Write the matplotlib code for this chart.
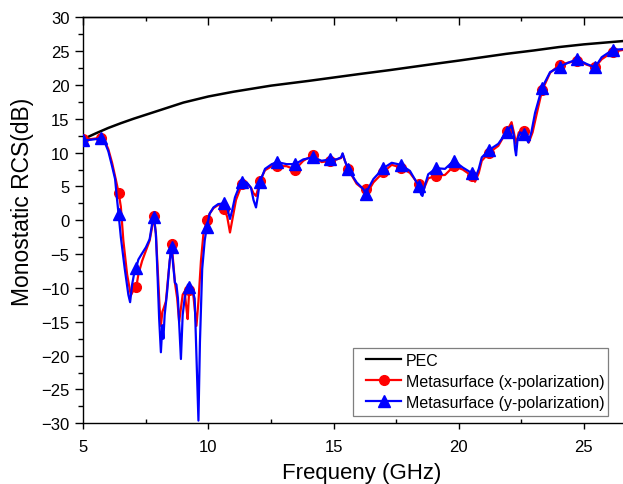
import matplotlib
matplotlib.use("Agg")
import matplotlib.pyplot as plt
from matplotlib.ticker import MultipleLocator
from matplotlib.lines import Line2D
from matplotlib.patches import Rectangle

plt.rcParams['font.family'] = ['Liberation Sans', 'DejaVu Sans']

# ---------------- data ----------------
pec_freq = [5.0, 5.5, 6.0, 6.5, 7.0, 7.5, 8.0, 9.0, 10.0, 11.0, 12.5, 14.0, 15.0, 16.0,
            17.25, 19.0, 20.0, 21.9, 23.0, 24.0, 25.0, 26.6, 27.3]
pec_rcs = [12.0, 12.85, 13.65, 14.35, 15.0, 15.6, 16.2, 17.4, 18.3, 19.0, 19.9, 20.6, 21.1, 21.6,
           22.2, 23.1, 23.6, 24.6, 25.1, 25.6, 26.0, 26.5, 26.7]

ypol_freq = [5.0, 5.3, 5.705, 5.85, 6.0, 6.15, 6.27, 6.35, 6.41, 6.5, 6.65, 6.8, 6.87,
             6.95, 7.05, 7.115, 7.2, 7.33, 7.5, 7.65, 7.75, 7.82, 7.9, 7.97, 8.03, 8.1,
             8.16, 8.2, 8.25, 8.35, 8.45, 8.525, 8.6, 8.66, 8.72, 8.78, 8.84, 8.9, 8.97,
             9.05, 9.12, 9.18, 9.23, 9.3, 9.38, 9.45, 9.52, 9.6, 9.66, 9.75, 9.85, 9.935,
             10.05, 10.2, 10.39, 10.64, 10.75, 10.86, 10.95, 11.06, 11.2, 11.345, 11.53,
             11.7, 11.8, 11.9, 11.97, 12.05, 12.26, 12.53, 12.755, 13.12, 13.46, 13.79,
             14.165, 14.52, 14.87, 15.12, 15.3, 15.36, 15.45, 15.575, 15.92, 16.19, 16.28,
             16.4, 16.59, 16.985, 17.32, 17.69, 18.05, 18.395, 18.5, 18.55, 18.65, 18.78,
             19.1, 19.45, 19.805, 20.16, 20.51, 20.65, 20.8, 20.92, 21.215, 21.58, 21.92,
             22.11, 22.2, 22.25, 22.29, 22.35, 22.45, 22.625, 22.78, 22.9, 23.05, 23.33,
             23.65, 24.035, 24.38, 24.74, 25.11, 25.445, 25.71, 26.15, 26.6, 27.3]
ypol_rcs = [11.8, 11.9, 12.1, 11.6, 10.2, 8.0, 6.1, 3.0, 0.9, -2.5, -7.0, -11.0, -12.1,
            -9.5, -7.5, -7.0, -5.8, -5.0, -4.0, -2.8, -0.5, 0.5, -2.0, -8.5, -14.5, -19.5,
            -15.5, -17.5, -14.0, -10.5, -6.0, -4.0, -7.0, -9.2, -9.5, -11.5, -16.0, -20.5, -14.0,
            -11.5, -10.3, -9.5, -9.9, -10.2, -10.5, -11.6, -20.0, -29.6, -18.0, -7.2, -3.0, -1.0,
            1.0, 1.9, 2.4, 2.5, 1.8, 0.2, 1.5, 3.4, 4.7, 5.6, 5.6,
            4.8, 3.0, 1.9, 3.5, 5.6, 7.6, 8.3, 8.6, 8.3, 8.3, 9.0,
            9.3, 8.8, 9.0, 9.0, 9.3, 9.9, 8.8, 7.6, 5.6, 4.6, 3.9,
            4.8, 6.1, 7.7, 8.5, 8.2, 7.3, 5.1, 3.8, 3.6, 5.2, 6.8,
            7.7, 7.6, 8.8, 7.8, 7.0, 6.1, 7.6, 9.3, 10.4, 11.3, 13.1,
            14.0, 12.5, 10.5, 9.6, 12.0, 13.0, 12.7, 11.5, 13.0, 15.9, 19.6,
            21.9, 22.7, 23.3, 23.8, 23.1, 22.6, 24.1, 25.2, 25.3, 25.4]

xpol_freq = [5.0, 5.3, 5.705, 5.85, 6.0, 6.15, 6.3, 6.41, 6.5, 6.6, 6.75, 6.9, 6.98,
             7.05, 7.115, 7.2, 7.35, 7.5, 7.65, 7.75, 7.82, 7.9, 7.97, 8.05, 8.1, 8.16,
             8.22, 8.3, 8.4, 8.525, 8.6, 8.66, 8.75, 8.83, 8.9, 8.97, 9.05, 9.12, 9.17,
             9.23, 9.3, 9.38, 9.45, 9.52, 9.6, 9.7, 9.8, 9.935, 10.05, 10.2, 10.4, 10.64,
             10.75, 10.86, 10.95, 11.1, 11.345, 11.53, 11.7, 11.8, 11.9, 11.97, 12.05,
             12.26, 12.53, 12.755, 13.12, 13.46, 13.79, 14.165, 14.52, 14.87, 15.12, 15.3,
             15.36, 15.45, 15.575, 15.92, 16.19, 16.28, 16.4, 16.59, 16.985, 17.32, 17.69,
             18.05, 18.395, 18.5, 18.6, 18.78, 19.1, 19.45, 19.805, 20.16, 20.51, 20.65,
             20.8, 20.92, 21.215, 21.58, 21.92, 22.11, 22.2, 22.29, 22.4, 22.625, 22.8,
             22.95, 23.1, 23.33, 23.65, 24.035, 24.38, 24.74, 25.11, 25.445, 25.71, 26.15,
             26.6, 27.3]
xpol_rcs = [12.0, 12.0, 12.2, 11.8, 10.5, 8.5, 6.0, 4.1, 2.0, -3.0, -8.0, -11.1, -10.5,
            -10.3, -9.9, -8.0, -6.0, -4.5, -3.0, -1.0, 0.6, -2.0, -7.0, -13.0, -15.6, -13.5,
            -12.9, -12.0, -8.0, -3.5, -6.5, -9.2, -11.5, -15.0, -13.0, -11.0, -10.5, -13.0, -14.6,
            -10.3, -10.3, -10.5, -13.0, -15.6, -12.0, -6.0, -2.0, 0.0, 1.0, 1.8, 2.3, 1.6,
            0.5, -1.8, 0.0, 3.0, 5.4, 5.5, 4.8, 4.0, 3.6, 4.5, 5.8,
            7.4, 8.0, 8.0, 8.0, 7.5, 8.8, 9.6, 8.6, 8.8, 9.0, 9.2,
            9.8, 8.8, 7.6, 5.4, 4.6, 4.6, 4.4, 5.6, 7.1, 8.2, 7.8,
            7.0, 5.3, 4.4, 4.6, 6.2, 6.6, 6.7, 8.0, 7.5, 6.6, 5.7,
            7.0, 8.8, 10.0, 11.0, 13.2, 14.5, 13.0, 11.3, 13.0, 13.2, 11.5,
            13.0, 15.5, 19.2, 21.8, 23.0, 23.3, 23.6, 23.0, 22.6, 23.8, 24.9,
            25.2, 25.3]

marker_freq = [5.0, 5.705, 6.41, 7.115, 7.82, 8.525, 9.23, 9.935, 10.64, 11.345, 12.05,
               12.755, 13.46, 14.165, 14.87, 15.575, 16.28, 16.985, 17.69, 18.395, 19.1,
               19.805, 20.51, 21.215, 21.92, 22.625, 23.33, 24.035, 24.74, 25.445, 26.15]
xpol_marker_rcs = [12.0, 12.2, 4.1, -9.9, 0.6, -3.5, -10.3, 0.0, 1.6, 5.4, 5.8,
                   8.0, 7.5, 9.6, 8.8, 7.6, 4.6, 7.1, 7.8, 5.3, 6.6,
                   8.0, 6.6, 10.0, 13.2, 13.2, 19.2, 23.0, 23.6, 22.6, 24.9]
ypol_marker_rcs = [11.8, 12.1, 0.9, -7.0, 0.5, -4.0, -9.9, -1.0, 2.5, 5.6, 5.6,
                   8.6, 8.3, 9.3, 9.0, 7.6, 3.9, 7.7, 8.2, 5.1, 7.7,
                   8.8, 7.0, 10.4, 13.1, 12.7, 19.6, 22.7, 23.8, 22.6, 25.2]

labels = ['PEC', 'Metasurface (x-polarization)', 'Metasurface (y-polarization)']
x_ticks = [5, 10, 15, 20, 25]
y_ticks = list(range(-30, 31, 5))

# ---------------- figure ----------------
W, H = 623, 485
fig = plt.figure(figsize=(W / 100, H / 100), dpi=100)
left_px, right_px, top_px, bot_px = 83.3, 640.0, 18.3, 424.3
ax = fig.add_axes([left_px / W, (H - bot_px) / H, (right_px - left_px) / W, (bot_px - top_px) / H])


def ax_frac(px, py):
    return ((px - left_px) / (right_px - left_px), (bot_px - py) / (bot_px - top_px))


ax.plot(pec_freq, pec_rcs, color='black', lw=1.8, zorder=3)
ax.plot(xpol_freq, xpol_rcs, color='#FF0000', lw=1.6, zorder=4)
ax.plot(marker_freq, xpol_marker_rcs, ls='none', marker='o', ms=7, color='#FF0000', zorder=5)
ax.plot(ypol_freq, ypol_rcs, color='#0000FF', lw=1.6, zorder=6)
ax.plot(marker_freq, ypol_marker_rcs, ls='none', marker='^', ms=8, color='#0000FF', zorder=7)

ax.set_xlim(5, 5 + (right_px - left_px) / 25.03)
ax.set_ylim(-30, 30)
ax.set_xticks(x_ticks)
ax.set_yticks(y_ticks)
ax.xaxis.set_minor_locator(MultipleLocator(2.5))
ax.yaxis.set_minor_locator(MultipleLocator(2.5))

for s in ['left', 'bottom', 'top']:
    ax.spines[s].set_linewidth(1.0)
ax.spines['right'].set_visible(False)

ax.tick_params(axis='x', which='major', direction='out', length=4.3, width=1.0,
               top=False, labelsize=12, pad=7)
ax.tick_params(axis='x', which='minor', direction='in', length=2.9, width=1.0, top=False)
ax.tick_params(axis='y', which='major', direction='out', length=5.8, width=1.0,
               right=False, labelsize=12, pad=4)
ax.tick_params(axis='y', which='minor', direction='out', length=3.6, width=1.0, right=False)

sec = ax.secondary_xaxis('top')
sec.set_xticks(x_ticks)
sec.xaxis.set_minor_locator(MultipleLocator(2.5))
sec.tick_params(which='major', direction='in', length=5.8, width=1.0, labeltop=False)
sec.tick_params(which='minor', direction='in', length=2.9, width=1.0)
sec.spines['top'].set_linewidth(1.0)

ax.set_xlabel('Frequeny (GHz)', fontsize=16, labelpad=6)
ax.set_ylabel('Monostatic RCS(dB)', fontsize=16.5)
ax.yaxis.set_label_coords(ax_frac(34, 0)[0], ax_frac(0, 202)[1])

# legend frame (drawn as a box) and entries
x0, y0 = ax_frac(353, 417)
x1, y1 = ax_frac(608, 349)
ax.add_patch(Rectangle((x0, y0), x1 - x0, y1 - y0, transform=ax.transAxes,
                       facecolor='white', edgecolor='#7f7f7f', lw=0.9, zorder=8))

handles = [
    Line2D([], [], color='black', lw=1.6),
    Line2D([], [], color='#FF0000', lw=1.6, marker='o', ms=7),
    Line2D([], [], color='#0000FF', lw=1.6, marker='^', ms=8),
]
leg = ax.legend(handles, labels, loc='upper left', bbox_to_anchor=ax_frac(366, 354),
                borderaxespad=0, borderpad=0, fontsize=11.5, frameon=False,
                handlelength=2.2, handletextpad=0.3, labelspacing=0.37)
leg.set_zorder(9)

fig.savefig('out.png', dpi=100)
